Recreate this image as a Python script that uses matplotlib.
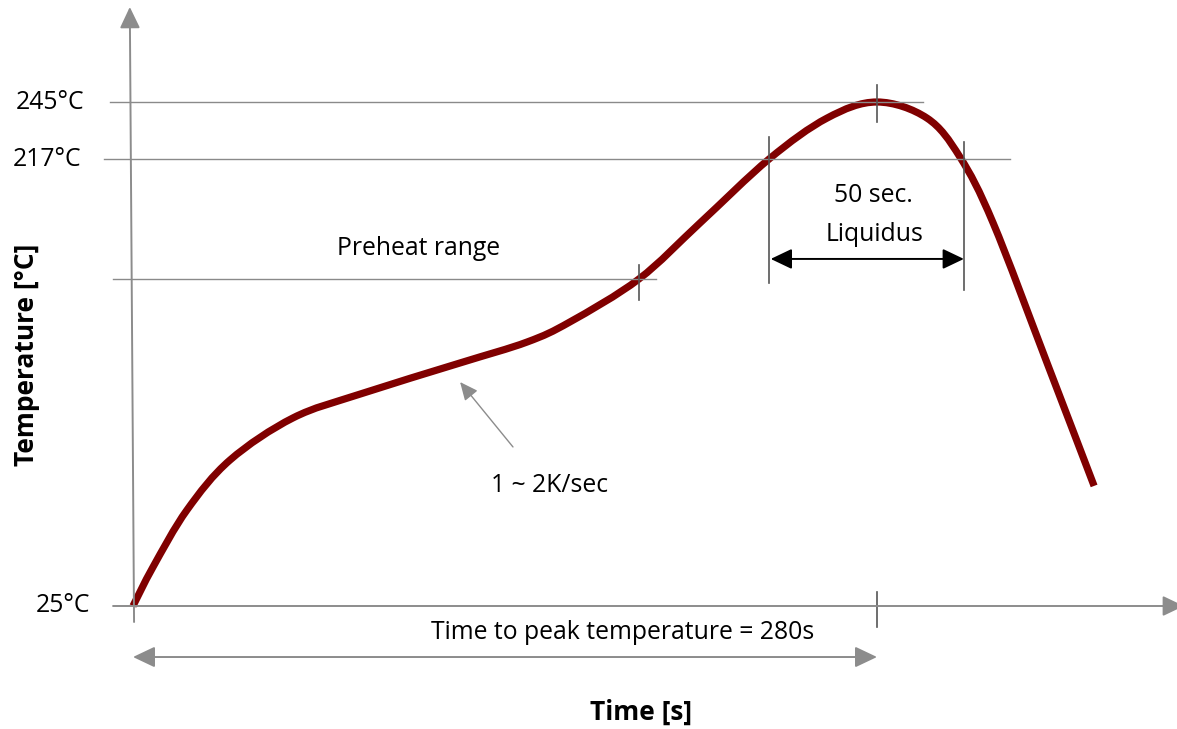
import numpy as np
import matplotlib
matplotlib.use("Agg")
import matplotlib.pyplot as plt
from matplotlib.path import Path
from matplotlib.patches import PathPatch

# ---------------- data ----------------
time_s = [0, 7.53, 20.32, 36.51, 60.22, 85.44, 123.06, 148.28, 164.46, 190.4,
          213.4, 239.4, 261.2, 280.0, 298.8, 311.2, 323.7, 344.0, 361.7]
temp_c = [25, 39.9, 61.7, 80.8, 96.9, 106.0, 117.9, 125.9, 133.6, 150.0,
          181.3, 217.0, 237.1, 245.0, 237.1, 218.0, 181.3, 117.9, 70.9]

ref_temps = [25, 217, 245]
ref_labels = ["25°C", "217°C", "245°C"]
preheat_temp = 150
preheat_end_time = 190.4
peak_time = 280
peak_temp = 245
liquidus_start = 239.4
liquidus_end = 312.7

# ---------------- schematic (non-linear) temperature scale ----------------
T_knots = np.array([-200.0, 25.0, 150.0, 217.0, 245.0, 500.0])
H_knots = np.array([-225 * 327 / 125, 0.0, 327.0, 447.0, 504.0, 504 + 255 * 57 / 28])


def fwd(t):
    return np.interp(t, T_knots, H_knots)


def inv(h):
    return np.interp(h, H_knots, T_knots)


plt.rcParams["font.family"] = ["Open Sans", "DejaVu Sans"]

fig = plt.figure(figsize=(11.77, 7.29), dpi=100)
ax = fig.add_axes([0, 0, 1, 1])
ax.set_yscale("function", functions=(fwd, inv))
ax.set_xlim(-50.05, 392.9)
ax.set_ylim(inv(-123), inv(606))
ax.axis("off")

grid_c = "#8a8a8a"
tick_c = "#555555"
axis_c = "#8c8c8c"
curve_c = "#800000"

# horizontal reference lines
ax.plot([-8.7, 297.3], [245, 245], color=grid_c, lw=1.0)
ax.plot([-10.9, 330.0], [217, 217], color=grid_c, lw=1.0)
ax.plot([-7.5, 196.8], [preheat_temp, preheat_temp], color=grid_c, lw=1.0)

# axes with arrow heads
ax.annotate("", xy=(-1.2, inv(599)), xytext=(0.4, inv(-16)),
            annotation_clip=False,
            arrowprops=dict(arrowstyle="-|>,head_length=1.3,head_width=0.62",
                            mutation_scale=10, color=axis_c, lw=1.4,
                            shrinkA=0, shrinkB=0))
ax.annotate("", xy=(395.5, 25), xytext=(-7.5, 25),
            annotation_clip=False,
            arrowprops=dict(arrowstyle="-|>,head_length=1.3,head_width=0.62",
                            mutation_scale=10, color=axis_c, lw=1.4,
                            shrinkA=0, shrinkB=0))

# tick marks
ax.plot([preheat_end_time] * 2, [142.0, 157.8], color=tick_c, lw=1.2)
ax.plot([peak_time] * 2, [235.2, 253.4], color=tick_c, lw=1.2)
ax.plot([liquidus_start] * 2, [148.5, 227.8], color=tick_c, lw=1.2)
ax.plot([liquidus_end] * 2, [145.8, 225.4], color=tick_c, lw=1.2)
ax.plot([peak_time] * 2, [17.0, 30.4], color=tick_c, lw=1.2)

# profile curve: smooth Catmull-Rom path through the read points
px = np.asarray(time_s, float)
py = fwd(np.asarray(temp_c, float))
P = np.column_stack([px, py])
Pe = np.vstack([P[0], P, P[-1]])
verts = [P[0]]
codes = [Path.MOVETO]
for i in range(len(P) - 1):
    p0, p1, p2, p3 = Pe[i], Pe[i + 1], Pe[i + 2], Pe[i + 3]
    c1 = p1 + (p2 - p0) / 6.0
    c2 = p2 - (p3 - p1) / 6.0
    verts += [c1, c2, p2]
    codes += [Path.CURVE4] * 3
verts = np.array(verts)
verts[:, 1] = inv(verts[:, 1])
curve = PathPatch(Path(verts, codes), facecolor="none", edgecolor=curve_c,
                  lw=5.2, capstyle="butt", joinstyle="round",
                  transform=ax.transData)
ax.add_patch(curve)

# liquidus arrow
ax.annotate("", xy=(liquidus_end, 161.2), xytext=(liquidus_start + 0.6, 161.2),
            arrowprops=dict(arrowstyle="<|-|>,head_length=1.3,head_width=0.62",
                            mutation_scale=10, color="black", lw=1.4,
                            shrinkA=0, shrinkB=0))

# time to peak arrow
ax.annotate("", xy=(peak_time, 5.5), xytext=(0, 5.5),
            arrowprops=dict(arrowstyle="<|-|>,head_length=1.35,head_width=0.64",
                            mutation_scale=10, color=axis_c, lw=1.4,
                            shrinkA=0, shrinkB=0))

# ramp-rate pointer
ax.annotate("", xy=(123.1, 110.6), xytext=(143.0, 85.8),
            arrowprops=dict(arrowstyle="-|>,head_length=1.1,head_width=0.5",
                            mutation_scale=10, color=axis_c, lw=1.0,
                            shrinkA=0, shrinkB=0))

fs = 17.8
fsb = 19
# temperature labels
label_x = {25: -16.2, 217: -19.6, 245: -18.4}
for t, lab in zip(ref_temps, ref_labels):
    ax.text(label_x[t], t, lab, ha="right", va="center", fontsize=fs)

ax.text(-39.9, 121, "Temperature [°C]", rotation=90, ha="center", va="center",
        fontsize=fsb, fontweight="bold")
ax.text(191.2, -15.5, "Time [s]", ha="center", va="center", fontsize=fsb,
        fontweight="bold")
ax.text(184.4, 14.8, f"Time to peak temperature = {peak_time}s", ha="center",
        va="center", fontsize=fs)
ax.text(107.6, 167.3, "Preheat range", ha="center", va="center", fontsize=fs)
ax.text(156.9, 70.9, "1 ~ 2K/sec", ha="center", va="center", fontsize=fs)
ax.text(278.5, 196.9, "50 sec.", ha="center", va="center", fontsize=fs)
ax.text(278.9, 175.1, "Liquidus", ha="center", va="center", fontsize=fs)

fig.savefig("out.png", dpi=100)
